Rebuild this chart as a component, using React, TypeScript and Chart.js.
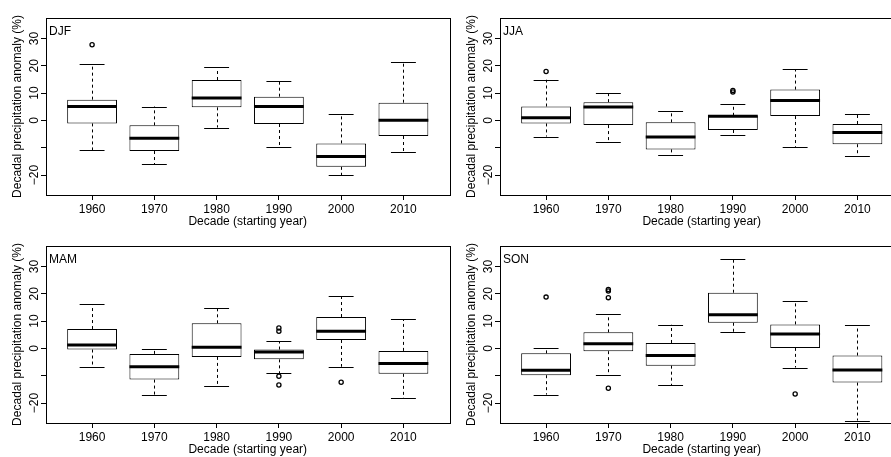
import React, { useEffect, useRef } from 'react';
import { Chart, registerables } from 'chart.js';

Chart.register(...registerables);

// Decades on the x axis (starting year) and y-axis tick values
const DECADES = [1960, 1970, 1980, 1990, 2000, 2010];
const Y_TICKS = [-20, -10, 0, 10, 20, 30];
const Y_MIN = -27.3;
const Y_MAX = 37.5;

// DJF: whisker ends, quartiles, medians, outliers
const djfLow = [-10.9, -16.0, -2.6, -9.8, -20.0, -11.5];
const djfQ1 = [-1.1, -11.2, 4.8, -1.3, -17.0, -5.7];
const djfMed = [5.1, -6.5, 8.2, 5.1, -13.2, 0.1];
const djfQ3 = [7.6, -1.8, 14.8, 8.7, -8.4, 6.5];
const djfHigh = [20.5, 5.1, 19.5, 14.6, 2.3, 21.3];
const djfOutDecade = [1960];
const djfOutValue = [27.7];

// JJA
const jjaLow = [-5.9, -7.9, -12.6, -5.5, -9.6, -13.2];
const jjaQ1 = [-1.1, -1.7, -10.6, -3.5, 1.6, -8.7];
const jjaMed = [1.0, 4.9, -6.1, 1.5, 7.3, -4.4];
const jjaQ3 = [5.1, 6.7, -0.7, 1.7, 11.3, -1.3];
const jjaHigh = [14.9, 10.0, 3.3, 6.1, 18.7, 2.3];
const jjaOutDecade = [1960, 1990, 1990];
const jjaOutValue = [17.9, 11.0, 10.4];

// MAM
const mamLow = [-6.7, -17.2, -13.9, -9.0, -6.7, -18.3];
const mamQ1 = [-0.4, -11.4, -3.1, -4.0, 3.1, -9.3];
const mamMed = [1.3, -6.7, 0.4, -1.3, 6.3, -5.5];
const mamQ3 = [7.1, -2.0, 9.2, -0.4, 11.5, -0.9];
const mamHigh = [16.1, -0.2, 14.8, 2.6, 19.1, 10.7];
const mamOutDecade = [1990, 1990, 1990, 1990, 2000];
const mamOutValue = [7.5, 6.3, -10.2, -13.4, -12.4];

// SON
const sonLow = [-16.9, -9.9, -13.5, 6.1, -7.0, -26.4];
const sonQ1 = [-9.8, -1.0, -6.3, 9.4, 0.2, -12.5];
const sonMed = [-8.0, 1.7, -2.6, 12.3, 5.3, -7.9];
const sonQ3 = [-1.8, 5.9, 2.0, 20.4, 8.8, -2.6];
const sonHigh = [0.1, 12.5, 8.7, 32.6, 17.3, 8.5];
const sonOutDecade = [1960, 1970, 1970, 1970, 1970, 2000];
const sonOutValue = [18.8, 21.6, 21.0, 18.6, -14.6, -16.7];

type Season = {
  name: string;
  low: number[];
  q1: number[];
  med: number[];
  q3: number[];
  high: number[];
  outDecade: number[];
  outValue: number[];
};

const SEASONS: Season[] = [
  { name: 'DJF', low: djfLow, q1: djfQ1, med: djfMed, q3: djfQ3, high: djfHigh, outDecade: djfOutDecade, outValue: djfOutValue },
  { name: 'JJA', low: jjaLow, q1: jjaQ1, med: jjaMed, q3: jjaQ3, high: jjaHigh, outDecade: jjaOutDecade, outValue: jjaOutValue },
  { name: 'MAM', low: mamLow, q1: mamQ1, med: mamMed, q3: mamQ3, high: mamHigh, outDecade: mamOutDecade, outValue: mamOutValue },
  { name: 'SON', low: sonLow, q1: sonQ1, med: sonMed, q3: sonQ3, high: sonHigh, outDecade: sonOutDecade, outValue: sonOutValue },
];

// 2x2 grid placement of the panels
const SLOTS = [
  { left: 0, top: 0 },
  { left: 454, top: 0 },
  { left: 0, top: 228 },
  { left: 454, top: 228 },
];

const PANEL_W = 455;
const PANEL_H = 228;
const FONT = '"Liberation Sans", Arial, Helvetica, sans-serif';

const fmtTick = (v: number) => (v === -10 ? '' : v < 0 ? '\u2212' + Math.abs(v) : String(v));

function boxPartsPlugin(s: Season) {
  return {
    id: 'boxParts',
    afterDatasetsDraw(chart: any) {
      const { ctx, chartArea, scales } = chart;
      const x = scales.x;
      const y = scales.y;
      const line = (x0: number, y0: number, x1: number, y1: number) => {
        ctx.beginPath();
        ctx.moveTo(x0, y0);
        ctx.lineTo(x1, y1);
        ctx.stroke();
      };
      ctx.save();
      ctx.strokeStyle = '#000';
      DECADES.forEach((_, i) => {
        const cx = x.getPixelForValue(i + 1);
        const stapleHalf = x.getPixelForValue(i + 1.2) - cx;
        const boxHalf = x.getPixelForValue(i + 1.4) - cx;
        const yLow = y.getPixelForValue(s.low[i]);
        const yQ1 = y.getPixelForValue(s.q1[i]);
        const yMed = y.getPixelForValue(s.med[i]);
        const yQ3 = y.getPixelForValue(s.q3[i]);
        const yHigh = y.getPixelForValue(s.high[i]);
        const px = Math.round(cx) + 0.5;
        // dashed whiskers
        ctx.lineWidth = 1;
        ctx.setLineDash([3, 3]);
        line(px, yQ3, px, yHigh);
        line(px, yQ1, px, yLow);
        ctx.setLineDash([]);
        // staples
        line(cx - stapleHalf, Math.round(yHigh) + 0.5, cx + stapleHalf, Math.round(yHigh) + 0.5);
        line(cx - stapleHalf, Math.round(yLow) + 0.5, cx + stapleHalf, Math.round(yLow) + 0.5);
        // median
        ctx.lineWidth = 3;
        line(cx - boxHalf, yMed, cx + boxHalf, yMed);
      });
      // plot frame
      ctx.lineWidth = 1;
      ctx.strokeRect(
        Math.round(chartArea.left) + 0.5,
        Math.round(chartArea.top) + 0.5,
        Math.round(chartArea.right - chartArea.left),
        Math.round(chartArea.bottom - chartArea.top)
      );
      // season label
      ctx.fillStyle = '#000';
      ctx.font = '12px ' + FONT;
      ctx.textAlign = 'left';
      ctx.textBaseline = 'alphabetic';
      ctx.fillText(s.name, chartArea.left + 3, chartArea.top + 17);
      ctx.restore();
    },
  };
}

function Panel({ season, left, top }: { season: Season; left: number; top: number }) {
  const ref = useRef<HTMLCanvasElement | null>(null);

  useEffect(() => {
    const canvas = ref.current;
    if (!canvas) return;
    const s = season;
    const boxes = DECADES.map((_, i) => ({ x: i + 1, y: [s.q1[i], s.q3[i]] }));
    const outliers = s.outDecade.map((d, k) => ({ x: DECADES.indexOf(d) + 1, y: s.outValue[k] }));

    const chart = new Chart(canvas, {
      type: 'bar',
      data: {
        datasets: [
          {
            type: 'bar',
            data: boxes as any,
            backgroundColor: '#fff',
            borderColor: '#000',
            borderWidth: 1,
            borderSkipped: false,
            categoryPercentage: 1,
            barPercentage: 0.8,
          } as any,
          {
            type: 'scatter',
            data: outliers,
            pointStyle: 'circle',
            pointRadius: 2.1,
            pointBorderWidth: 1.3,
            pointBorderColor: '#000',
            pointBackgroundColor: 'rgba(0,0,0,0)',
            showLine: false,
          } as any,
        ],
      },
      options: {
        responsive: false,
        animation: false,
        events: [],
        layout: { padding: { left: 0, top: 18, right: 5.5, bottom: 0 } },
        plugins: { legend: { display: false }, tooltip: { enabled: false } },
        scales: {
          x: {
            type: 'linear',
            min: 0.26,
            max: 6.74,
            offset: false,
            afterBuildTicks: (sc: any) => {
              sc.ticks = DECADES.map((_, i) => ({ value: i + 1 }));
            },
            afterFit: (sc: any) => {
              sc.height = 33;
            },
            grid: {
              offset: false,
              drawOnChartArea: false,
              drawTicks: true,
              tickLength: 5,
              tickColor: '#000',
              tickWidth: 1,
            },
            border: { display: true, color: '#000', width: 1 },
            ticks: {
              autoSkip: false,
              maxRotation: 0,
              minRotation: 0,
              padding: 2,
              color: '#000',
              font: { family: FONT, size: 12 },
              callback: (v: any) => String(DECADES[Math.round(Number(v)) - 1] ?? ''),
            },
            title: {
              display: true,
              text: 'Decade (starting year)',
              color: '#000',
              font: { family: FONT, size: 12, lineHeight: 1 },
              padding: { top: 0, bottom: 0 },
            },
          },
          y: {
            type: 'linear',
            min: Y_MIN,
            max: Y_MAX,
            afterBuildTicks: (sc: any) => {
              sc.ticks = Y_TICKS.map((v) => ({ value: v }));
            },
            afterFit: (sc: any) => {
              sc.width = 46;
            },
            grid: {
              drawOnChartArea: false,
              drawTicks: true,
              tickLength: 5,
              tickColor: '#000',
              tickWidth: 1,
            },
            border: { display: true, color: '#000', width: 1 },
            ticks: {
              autoSkip: false,
              minRotation: 90,
              maxRotation: 90,
              crossAlign: 'center',
              padding: -4,
              color: '#000',
              font: { family: FONT, size: 12 },
              callback: (v: any) => fmtTick(Number(v)),
            },
            title: {
              display: true,
              text: 'Decadal precipitation anomaly (%)',
              color: '#000',
              font: { family: FONT, size: 12, lineHeight: 1 },
              padding: { top: 12, bottom: 0 },
            },
          },
        },
      },
      plugins: [boxPartsPlugin(s)],
    } as any);

    return () => chart.destroy();
  }, [season]);

  return (
    <div style={{ position: 'absolute', left, top, width: PANEL_W, height: PANEL_H }}>
      <canvas ref={ref} width={PANEL_W} height={PANEL_H} style={{ display: 'block' }} />
    </div>
  );
}

export default function App() {
  return (
    <div
      style={{
        position: 'fixed',
        left: 0,
        top: 0,
        width: 891,
        height: 457,
        overflow: 'hidden',
        background: '#fff',
      }}
    >
      {SEASONS.map((s, i) => (
        <Panel key={s.name} season={s} left={SLOTS[i].left} top={SLOTS[i].top} />
      ))}
    </div>
  );
}
